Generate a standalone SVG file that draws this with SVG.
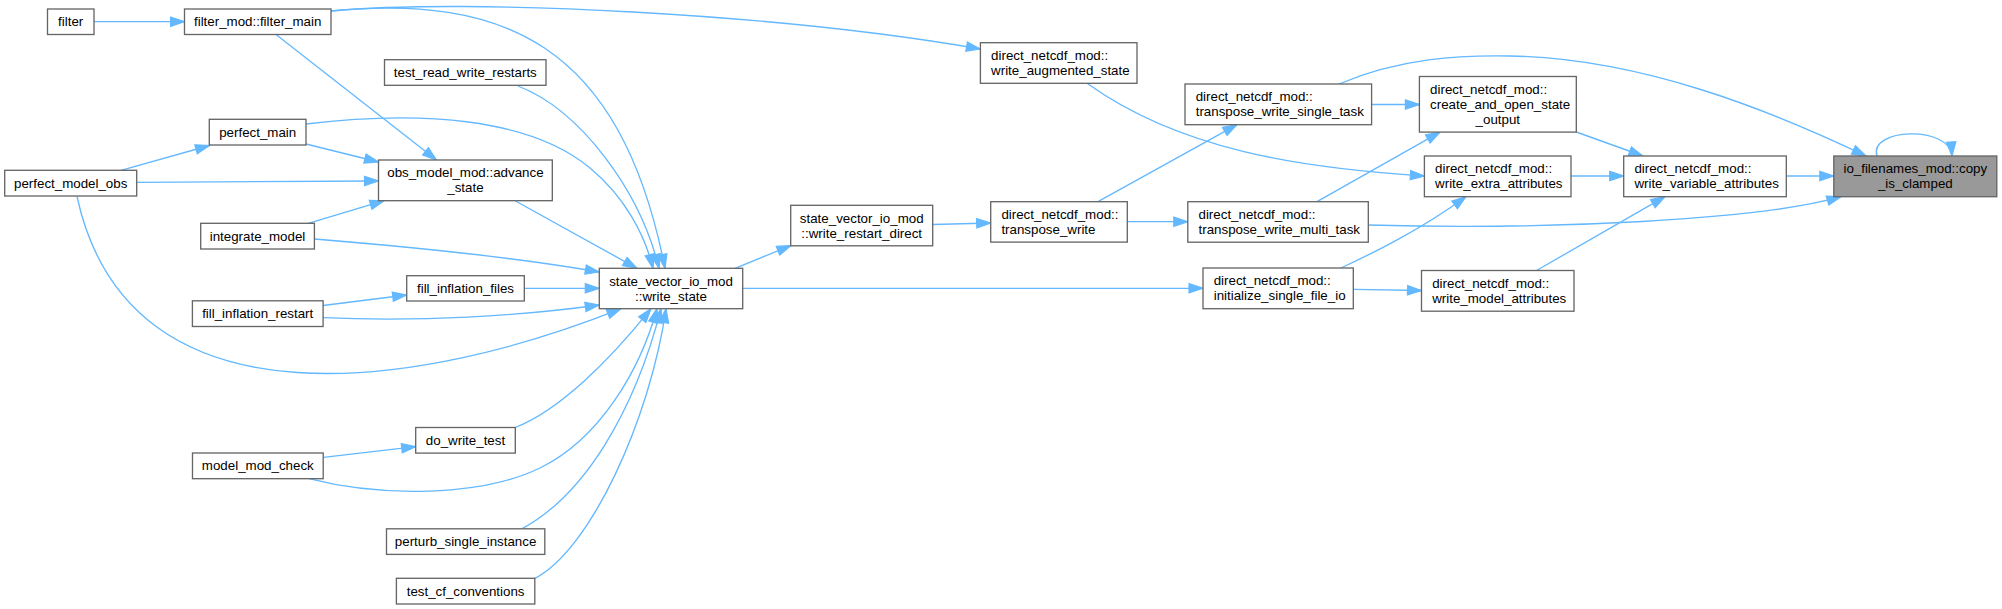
<svg xmlns="http://www.w3.org/2000/svg" width="2002" height="609" viewBox="0 0 2002 609">
<style>
.node rect{fill:#ffffff;stroke:#666666;stroke-width:1.33}
.node.hl rect{fill:#999999}
.node text{font-family:"Liberation Sans",Arial,Helvetica,sans-serif;font-size:13.33px;fill:#000000}
.c{text-anchor:middle}
.edges path{fill:none;stroke:#63b8ff;stroke-width:1.33;marker-end:url(#ah)}
</style>
<defs>
<marker id="ah" markerUnits="userSpaceOnUse" markerWidth="16" markerHeight="12" viewBox="-1 -1 16 11.33" refX="14" refY="4.667" orient="auto">
<path d="M0,0 L14,4.667 L0,9.333 Z" fill="#63b8ff" stroke="#63b8ff" stroke-width="1.2"/>
</marker>
</defs>
<rect width="2002" height="609" fill="#ffffff"/>
<g class="edges">
<path d="M94,21.7 L184.5,21.7"/>
<path d="M331,11 C470,-2 780,14 980.4,49"/>
<path d="M331,11 C500,-5 620,40 665,268.3"/>
<path d="M276,34.5 L436.5,160"/>
<path d="M518,86 C580,110 640,190 659,268.3"/>
<path d="M306,144 L378.5,162"/>
<path d="M306,124 C420,110 530,118 590,168 C625,197 645,235 653,268.3"/>
<path d="M121,170.3 L209.5,145.5"/>
<path d="M136.7,182.3 L378.5,181"/>
<path d="M77,196.5 C130,440 430,385 621,308.7"/>
<path d="M515.5,201 L637,268.3"/>
<path d="M308.3,223.3 L384,200.7"/>
<path d="M314.3,239 C400,246 520,258 599.3,272"/>
<path d="M524.3,288.3 L599.3,288.3"/>
<path d="M323,305.5 L406.7,295"/>
<path d="M323,317.7 C420,322 520,316 599.3,305"/>
<path d="M515.3,427.5 C560,410 610,360 651,308.7"/>
<path d="M323.4,457.3 L415.7,446.7"/>
<path d="M309,478.7 C380,497 480,497 540,468 C600,439 640,370 657,308.7"/>
<path d="M521.7,528.8 C585,495 635,410 661,308.7"/>
<path d="M535,578.3 C590,550 650,420 666,308.7"/>
<path d="M735,268.3 L791,245.5"/>
<path d="M742.7,288.3 L1203,288.3"/>
<path d="M932.7,224.5 L990.7,223"/>
<path d="M1098,201.7 L1237,124.7"/>
<path d="M1127.3,221.7 L1187.8,221.7"/>
<path d="M1087,83.3 C1180,150 1300,168 1424.4,176"/>
<path d="M1371.6,104.5 L1419.4,104.5"/>
<path d="M1339,84 C1400,58 1460,55 1510,56 C1640,58 1770,110 1866,156"/>
<path d="M1317,201.7 L1440,132.1"/>
<path d="M1368.3,225 C1550,230 1760,220 1841,196.7"/>
<path d="M1341,268 C1375,252 1420,230 1466,196.7"/>
<path d="M1353.3,289.3 L1421.5,290.5"/>
<path d="M1576.3,132 L1643,156"/>
<path d="M1571,176 L1623.7,176"/>
<path d="M1536.5,270.5 L1665,196.7"/>
<path d="M1786.3,176 L1833.8,176"/>
<path d="M1877,156 C1868,128 1950,125 1952,156"/>
</g>
<g id="n-filter" class="node"><rect x="47.5" y="9" width="46.5" height="25.5"/><text class="c" x="70.7" y="26.4">filter</text></g>
<g id="n-filter_main" class="node"><rect x="184.5" y="9" width="146.5" height="25.5"/><text class="c" x="257.7" y="26.4">filter_mod::filter_main</text></g>
<g id="n-test_read_write_restarts" class="node"><rect x="384.5" y="59.7" width="161.5" height="25.6"/><text class="c" x="465.3" y="77.1">test_read_write_restarts</text></g>
<g id="n-perfect_main" class="node"><rect x="209.3" y="119.3" width="96.7" height="25.7"/><text class="c" x="257.7" y="136.7">perfect_main</text></g>
<g id="n-advance_state" class="node"><rect x="378.5" y="160" width="173.8" height="40.7"/><text class="c" x="465.4" y="177.4">obs_model_mod::advance</text><text class="c" x="465.4" y="192.4">_state</text></g>
<g id="n-perfect_model_obs" class="node"><rect x="4.7" y="170.3" width="132" height="25.7"/><text class="c" x="70.7" y="187.7">perfect_model_obs</text></g>
<g id="n-integrate_model" class="node"><rect x="200.7" y="223.3" width="113.7" height="25.7"/><text class="c" x="257.5" y="240.7">integrate_model</text></g>
<g id="n-fill_inflation_files" class="node"><rect x="406.7" y="275.7" width="117.6" height="25.3"/><text class="c" x="465.5" y="293">fill_inflation_files</text></g>
<g id="n-fill_inflation_restart" class="node"><rect x="192.4" y="300.8" width="130.7" height="25.7"/><text class="c" x="257.7" y="318.2">fill_inflation_restart</text></g>
<g id="n-write_state" class="node"><rect x="599.3" y="268.3" width="143.4" height="40.4"/><text class="c" x="671" y="285.7">state_vector_io_mod</text><text class="c" x="671" y="300.7">::write_state</text></g>
<g id="n-do_write_test" class="node"><rect x="415.7" y="427.5" width="99.6" height="25.6"/><text class="c" x="465.5" y="444.9">do_write_test</text></g>
<g id="n-model_mod_check" class="node"><rect x="192.5" y="453" width="130.7" height="25.7"/><text class="c" x="257.8" y="470.4">model_mod_check</text></g>
<g id="n-perturb_single_instance" class="node"><rect x="386.5" y="528.8" width="158.3" height="25.6"/><text class="c" x="465.6" y="546.2">perturb_single_instance</text></g>
<g id="n-test_cf_conventions" class="node"><rect x="396.4" y="578.3" width="138.4" height="25.7"/><text class="c" x="465.6" y="595.7">test_cf_conventions</text></g>
<g id="n-write_restart_direct" class="node"><rect x="790.7" y="205.3" width="142" height="40.5"/><text class="c" x="861.7" y="222.7">state_vector_io_mod</text><text class="c" x="861.7" y="237.7">::write_restart_direct</text></g>
<g id="n-write_augmented_state" class="node"><rect x="980.4" y="42.7" width="156.6" height="40.6"/><text x="991.1" y="60.1">direct_netcdf_mod::</text><text x="991.1" y="75.1">write_augmented_state</text></g>
<g id="n-transpose_write" class="node"><rect x="990.7" y="201.7" width="136.6" height="40.4"/><text x="1001.4" y="219.1">direct_netcdf_mod::</text><text x="1001.4" y="234.1">transpose_write</text></g>
<g id="n-transpose_write_single_task" class="node"><rect x="1185" y="84" width="186.6" height="40.7"/><text x="1195.7" y="101.4">direct_netcdf_mod::</text><text x="1195.7" y="116.4">transpose_write_single_task</text></g>
<g id="n-transpose_write_multi_task" class="node"><rect x="1187.8" y="201.7" width="180.5" height="40.5"/><text x="1198.5" y="219.1">direct_netcdf_mod::</text><text x="1198.5" y="234.1">transpose_write_multi_task</text></g>
<g id="n-initialize_single_file_io" class="node"><rect x="1203" y="268" width="150.3" height="40.7"/><text x="1213.7" y="285.4">direct_netcdf_mod::</text><text x="1213.7" y="300.4">initialize_single_file_io</text></g>
<g id="n-create_and_open_state_output" class="node"><rect x="1419.4" y="76.5" width="156.9" height="55.6"/><text x="1430.1" y="93.9">direct_netcdf_mod::</text><text x="1430.1" y="108.9">create_and_open_state</text><text class="c" x="1497.8" y="123.9">_output</text></g>
<g id="n-write_extra_attributes" class="node"><rect x="1424.4" y="156" width="146.6" height="40.7"/><text x="1435.1" y="173.4">direct_netcdf_mod::</text><text x="1435.1" y="188.4">write_extra_attributes</text></g>
<g id="n-write_model_attributes" class="node"><rect x="1421.5" y="270.5" width="152.5" height="40.7"/><text x="1432.2" y="287.9">direct_netcdf_mod::</text><text x="1432.2" y="302.9">write_model_attributes</text></g>
<g id="n-write_variable_attributes" class="node"><rect x="1623.7" y="156" width="162.6" height="40.7"/><text x="1634.4" y="173.4">direct_netcdf_mod::</text><text x="1634.4" y="188.4">write_variable_attributes</text></g>
<g id="n-copy_is_clamped" class="node hl"><rect x="1833.8" y="156" width="163" height="40.7"/><text class="c" x="1915.3" y="173.4">io_filenames_mod::copy</text><text class="c" x="1915.3" y="188.4">_is_clamped</text></g>
</svg>
